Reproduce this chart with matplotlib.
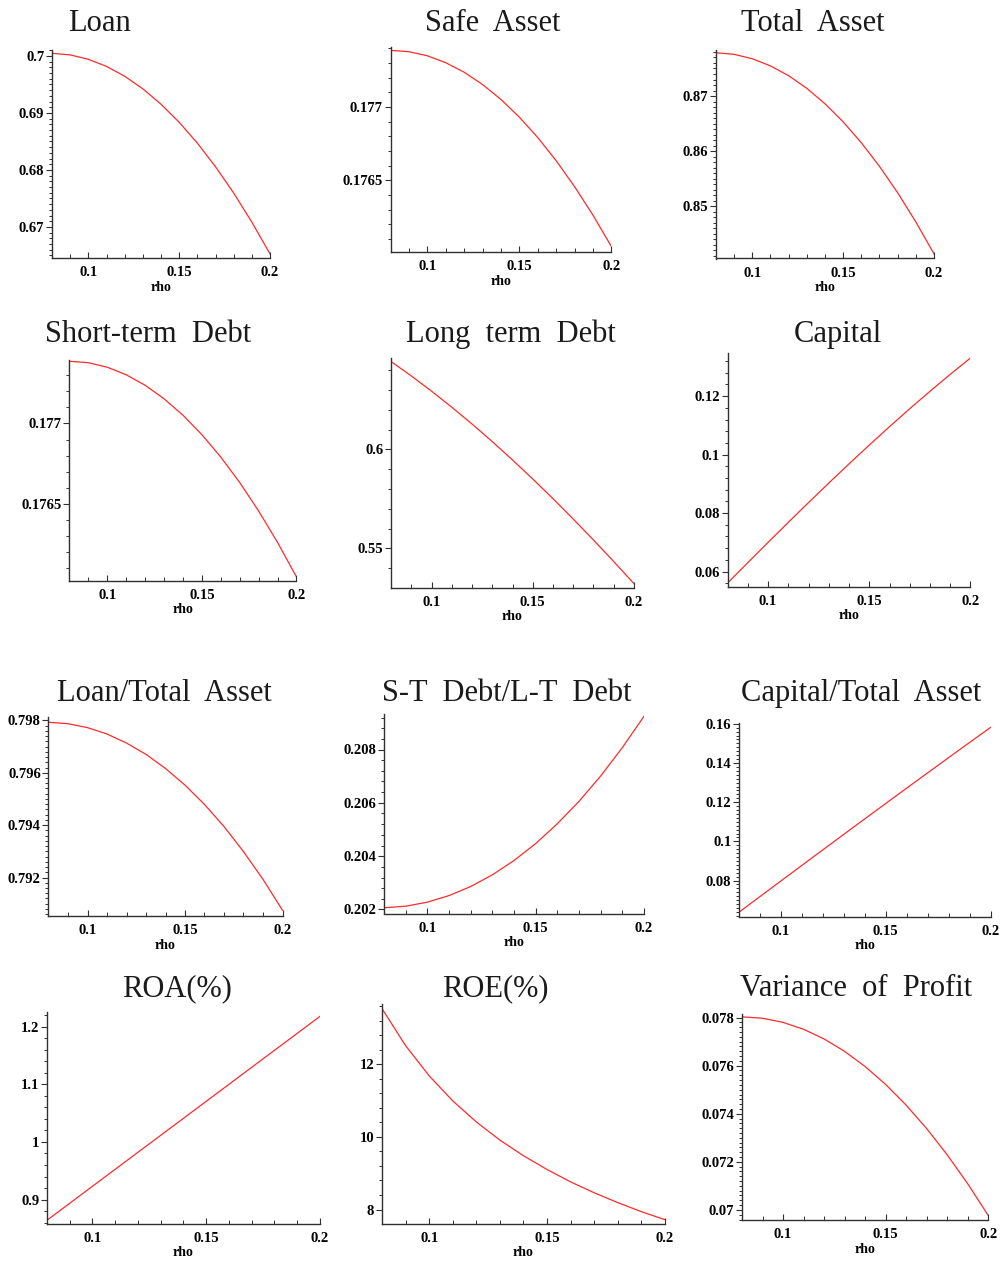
import matplotlib
matplotlib.use("Agg")
import matplotlib.pyplot as plt
from matplotlib.ticker import MultipleLocator

W, H = 1003, 1262

rho = [0.08, 0.09, 0.10, 0.11, 0.12, 0.13, 0.14, 0.15, 0.16, 0.17, 0.18, 0.19, 0.20]

loan = [0.70047, 0.70019, 0.69942, 0.69817, 0.69645, 0.69424, 0.69154,
        0.68837, 0.68472, 0.68058, 0.67596, 0.67086, 0.66528]
safe_asset = [0.177386, 0.177377, 0.177349, 0.177302, 0.177237, 0.177153, 0.177051,
              0.176930, 0.176791, 0.176633, 0.176456, 0.176261, 0.176047]
total_asset = [0.87786, 0.87757, 0.87677, 0.87547, 0.87369, 0.87139, 0.86859,
               0.86530, 0.86151, 0.85721, 0.85242, 0.84712, 0.84133]
short_term_debt = [0.177386, 0.177377, 0.177349, 0.177302, 0.177237, 0.177153, 0.177051,
                   0.176930, 0.176791, 0.176633, 0.176456, 0.176261, 0.176047]
long_term_debt = [0.644436, 0.637176, 0.629479, 0.621369, 0.612879, 0.603986, 0.594723,
                  0.585114, 0.575164, 0.564878, 0.554291, 0.543396, 0.532227]
capital = [0.056038, 0.063017, 0.069942, 0.076799, 0.083574, 0.090251, 0.096816,
           0.103256, 0.109555, 0.115699, 0.121673, 0.127463, 0.133056]
loan_to_total = [0.79793, 0.797874, 0.797724, 0.79748, 0.797136, 0.796704, 0.796164,
                 0.795528, 0.79479, 0.793947, 0.792989, 0.79193, 0.790748]
st_to_lt = [0.202067, 0.202123, 0.202275, 0.202522, 0.202861, 0.203299, 0.203837,
            0.204472, 0.205216, 0.206056, 0.207006, 0.208071, 0.209248]
capital_to_total = [0.063834, 0.071809, 0.079772, 0.087723, 0.095656, 0.103572, 0.111463,
                    0.119329, 0.127166, 0.134971, 0.142738, 0.150467, 0.15815]
roa = [0.864, 0.8935, 0.9231, 0.9526, 0.9822, 1.0117, 1.0412,
       1.0708, 1.1003, 1.1299, 1.1594, 1.1889, 1.2185]
roe = [13.53, 12.51, 11.68, 10.99, 10.41, 9.91, 9.48,
       9.10, 8.76, 8.46, 8.19, 7.94, 7.72]
profit_variance = [0.07803, 0.077973, 0.0778, 0.077513, 0.07711, 0.076593, 0.07596,
                   0.075213, 0.07435, 0.073373, 0.07228, 0.071073, 0.06975]

x_ticks = [0.1, 0.15, 0.2]
x_tick_labels = ["0.1", "0.15", "0.2"]

TITLE_FONT = "Liberation Serif"
TICK_FONT = "Liberation Serif"

# (title, series, title anchor px (centre x, baseline y), axes box px (left, top, right, bottom),
#  y limits, major y ticks, y tick labels, minor y step)
panels = [
    ("Loan", loan, (100, 31), (52, 50, 270, 258), (0.66456, 0.70105),
     [0.67, 0.68, 0.69, 0.70], ["0.67", "0.68", "0.69", "0.7"], 0.001),
    ("Safe  Asset", safe_asset, (493, 31), (390.5, 47, 611.5, 252), (0.176011, 0.177409),
     [0.1765, 0.177], ["0.1765", "0.177"], 0.0001),
    ("Total  Asset", total_asset, (813, 31), (716, 50, 934, 258.5), (0.84048, 0.87836),
     [0.85, 0.86, 0.87], ["0.85", "0.86", "0.87"], 0.001),
    ("Short-term  Debt", short_term_debt, (148, 342), (69.5, 359.5, 296.5, 580.5), (0.176025, 0.177397),
     [0.1765, 0.177], ["0.1765", "0.177"], 0.0001),
    ("Long  term  Debt", long_term_debt, (511, 342), (391, 358.5, 634, 587.5), (0.5303, 0.64596),
     [0.55, 0.6], ["0.55", "0.6"], 0.01),
    ("Capital", capital, (838, 342), (727.5, 353.5, 970.5, 586.5), (0.05487, 0.13459),
     [0.06, 0.08, 0.10, 0.12], ["0.06", "0.08", "0.1", "0.12"], 0.004),
    ("Loan/Total  Asset", loan_to_total, (164, 701), (48.5, 717, 282.5, 916), (0.79053, 0.79813),
     [0.792, 0.794, 0.796, 0.798], ["0.792", "0.794", "0.796", "0.798"], 0.0002),
    ("S-T  Debt/L-T  Debt", st_to_lt, (507, 701), (384, 713.5, 644, 913.5), (0.20185, 0.20935),
     [0.202, 0.204, 0.206, 0.208], ["0.202", "0.204", "0.206", "0.208"], 0.0004),
    ("Capital/Total  Asset", capital_to_total, (861, 701), (739, 722.5, 990.5, 916.5), (0.06162, 0.16068),
     [0.08, 0.10, 0.12, 0.14, 0.16], ["0.08", "0.1", "0.12", "0.14", "0.16"], 0.002),
    ("ROA(%)", roa, (177, 996), (47, 1012, 320, 1223.5), (0.8583, 1.226),
     [0.9, 1.0, 1.1, 1.2], ["0.9", "1", "1.1", "1.2"], 0.02),
    ("ROE(%)", roe, (495, 996), (382, 1003.5, 665, 1223.5), (7.615, 13.67),
     [8, 10, 12], ["8", "10", "12"], 0.4),
    ("Variance  of  Profit", profit_variance, (856, 996), (742, 1013.5, 988.5, 1220), (0.06958, 0.07817),
     [0.070, 0.072, 0.074, 0.076, 0.078], ["0.07", "0.072", "0.074", "0.076", "0.078"], 0.0002),
]

fig = plt.figure(figsize=(W / 100, H / 100), dpi=100)
fig.patch.set_facecolor("white")

for title, series, (tx, ty), (l, t, r, b), ylim, yt, ytl, ystep in panels:
    ax = fig.add_axes([l / W, 1 - b / H, (r - l) / W, (b - t) / H])
    ax.plot(rho, series, color="#ff2a2a", lw=0.9)
    ax.set_xlim(0.08, 0.2)
    ax.set_ylim(*ylim)
    for side in ("top", "right"):
        ax.spines[side].set_visible(False)
    for side in ("left", "bottom"):
        ax.spines[side].set_color("#303030")
        ax.spines[side].set_linewidth(1.0)
    ax.set_xticks(x_ticks)
    ax.set_xticklabels(x_tick_labels)
    ax.xaxis.set_minor_locator(MultipleLocator(0.01))
    ax.set_yticks(yt)
    ax.set_yticklabels(ytl)
    ax.yaxis.set_minor_locator(MultipleLocator(ystep))
    ax.tick_params(axis="x", which="both", direction="in", colors="#303030",
                   labelcolor="black", pad=6)
    ax.tick_params(axis="x", which="major", length=4, width=0.8)
    ax.tick_params(axis="x", which="minor", length=3, width=0.7)
    ax.tick_params(axis="y", which="both", direction="out", colors="#303030",
                   labelcolor="black", pad=1.5)
    ax.tick_params(axis="y", which="major", length=4, width=0.8)
    ax.tick_params(axis="y", which="minor", length=2.5, width=0.7)
    for lab in ax.get_xticklabels() + ax.get_yticklabels():
        lab.set_fontfamily(TICK_FONT)
        lab.set_fontweight("bold")
        lab.set_fontsize(10.5)
    ax.set_xlabel("rho", fontfamily=TICK_FONT, fontweight="bold", fontsize=10, labelpad=1)
    ax.patch.set_alpha(0)
    fig.text(tx / W, 1 - ty / H, title, ha="center", va="baseline",
             fontfamily=TITLE_FONT, fontsize=22, color="#1a1a1a")

fig.savefig("out.png", dpi=100, facecolor="white")
